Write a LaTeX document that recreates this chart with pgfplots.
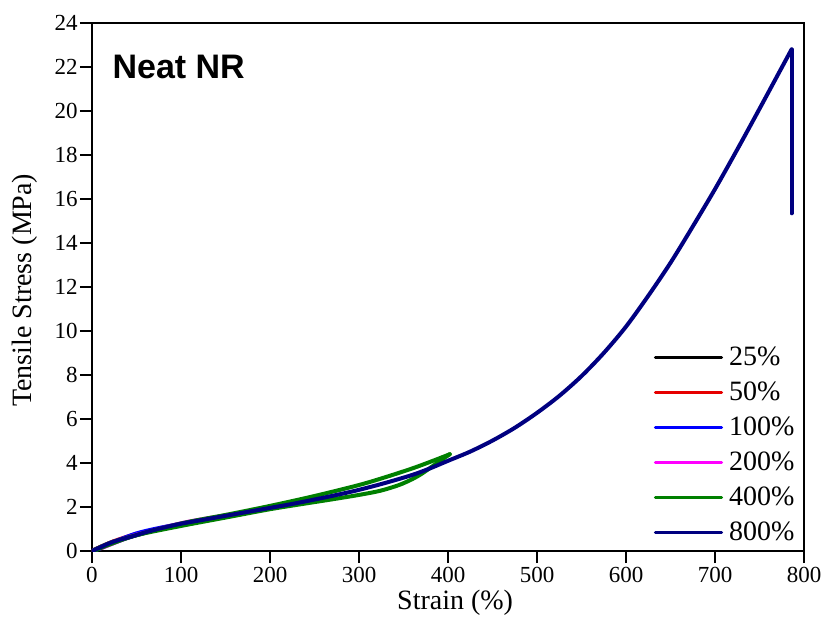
\documentclass[border=0pt]{standalone}
\usepackage{fontspec}
\setmainfont{Liberation Serif}
\newfontfamily\arialfont{Liberation Sans}
\usepackage{pgfplots}
\pgfplotsset{compat=1.18}
\definecolor{navy}{RGB}{0,0,128}
\definecolor{dgreen}{RGB}{0,128,0}
\definecolor{mred}{RGB}{230,0,0}
\definecolor{mblue}{RGB}{0,0,255}
\definecolor{mmag}{RGB}{255,0,255}
\begin{document}
\begin{tikzpicture}
\begin{axis}[name=ax,
  scale only axis, width=356pt, height=264pt,
  xmin=0, xmax=800, ymin=0, ymax=24,
  xtick={0,100,...,800}, ytick={0,2,...,24},
  tick align=outside, xtick pos=left, ytick pos=left,
  major tick length=6pt,
  axis line style={line width=0.8pt}, every tick/.style={line width=0.8pt, black},
  /pgf/number format/assume math mode=true,
  tick label style={font=\fontsize{11.5}{13}\selectfont},
  yticklabel style={inner xsep=1pt},
  xticklabel style={inner ysep=2pt},
  xlabel={Strain (\%)}, ylabel={Tensile Stress (MPa)},
  label style={font=\fontsize{14}{16}\selectfont},
  xlabel style={at={(axis description cs:0.51,-0.098)}, anchor=center},
  ylabel style={at={(axis description cs:-0.094,0.494)}, anchor=center, rotate=0},
  legend style={at={(rel axis cs:0.783,0.0)}, anchor=south west, draw=none, fill=none,
    font=\fontsize{14}{16}\selectfont, row sep=3.5pt, inner sep=2pt,
    nodes={text height=10pt, text depth=2pt, inner ysep=1pt, inner xsep=3pt}},
  legend cell align=left,
  legend image code/.code={\draw[#1, line width=1.6pt] (0pt,0pt) -- (33pt,0pt);},
  every axis plot/.append style={line width=2pt, line join=round, line cap=round},
]
\addplot[black, smooth] coordinates {(0,0) (10,0.2) (25,0.45) (15,0.28) (5,0.08) (2,0)};
\addlegendentry{25\%}
\addplot[mred, smooth] coordinates {(0,0) (25,0.45) (50,0.78) (40,0.62) (20,0.32) (5,0.06)};
\addlegendentry{50\%}
\addplot[mblue, smooth] coordinates {(0,0) (50,0.8) (100,1.24) (80,1.04) (50,0.74) (20,0.3) (5,0.05)};
\addlegendentry{100\%}
\addplot[mmag, smooth] coordinates {(0,0) (20,0.36) (43,0.64) (100,1.26) (150,1.62) (200,1.98) (185,1.85) (150,1.58) (100,1.16) (50,0.74) (10,0.12)};
\addlegendentry{200\%}
\addplot[dgreen, smooth] coordinates {(0,0) (20,0.36) (43,0.64) (100,1.25) (150,1.64) (200,2.05) (250,2.5) (300,3.0) (330,3.36) (361,3.77) (385,4.13) (402,4.4)};
\addlegendentry{400\%}
\addplot[dgreen, smooth, forget plot] coordinates {(402,4.4) (392,4.12) (380,3.78) (370,3.5) (360,3.27) (345,3.0) (324,2.74) (300,2.55) (270,2.35) (240,2.16) (200,1.9) (150,1.52) (100,1.14) (50,0.72) (20,0.3) (5,0.05)};
\addplot[navy, smooth] coordinates {(0,0) (10,0.18) (20,0.36) (30,0.5) (43,0.64) (60,0.85) (80,1.06) (100,1.24) (125,1.42) (150,1.6) (175,1.78) (200,1.96) (225,2.14) (250,2.34) (275,2.55) (300,2.78) (330,3.1) (360,3.46) (380,3.76) (400,4.1) (425,4.52) (450,5.02) (475,5.6) (500,6.28) (525,7.05) (550,7.95) (575,9.0) (600,10.2) (625,11.6) (650,13.1) (675,14.75) (700,16.45) (725,18.25) (750,20.1) (770,21.6) (786,22.8)};
\addlegendentry{800\%}
\addplot[navy, forget plot] coordinates {(786,22.8) (786,15.35)};
\node[anchor=west, font=\arialfont\bfseries\fontsize{17}{19}\selectfont] at (rel axis cs:0.019,0.917) {Neat NR};
\end{axis}
\pgfresetboundingbox
\path ([shift={(-46pt,-41pt)}]ax.south west) rectangle ([shift={(11pt,11.5pt)}]ax.north east);
\end{tikzpicture}
\end{document}
